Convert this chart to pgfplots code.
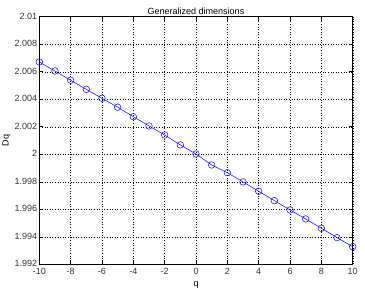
\documentclass[border=0pt]{standalone}
\usepackage{fontspec}
\setmainfont{Liberation Sans}
\usepackage{pgfplots}
\pgfplotsset{compat=1.18}
\begin{document}
\fontsize{9pt}{10pt}\selectfont
\begin{tikzpicture}
\begin{axis}[
  name=ax,
  scale only axis,
  width=313.4pt, height=247.6pt,
  xmin=-10, xmax=10, ymin=1.992, ymax=2.01,
  xtick={-10,-8,...,10},
  ytick={1.992,1.994,1.996,1.998,2,2.002,2.004,2.006,2.008,2.01},
  scaled y ticks=false,
  /pgf/number format/assume math mode=true,
  yticklabel style={/pgf/number format/fixed, /pgf/number format/precision=3},
  tick align=inside,
  major tick length=4pt,
  tick style={black, line width=0.5pt},
  grid=major,
  major grid style={black, line width=0.4pt, dash pattern=on 1pt off 1.6pt},
  axis line style={black, line width=0.6pt},
  title={Generalized dimensions},
  title style={yshift=-7pt},
  xlabel={q}, ylabel={Dq},
  xlabel style={yshift=-1pt},
  ylabel style={yshift=-2pt},
  ticklabel style={font=\fontsize{9pt}{10pt}\selectfont, text=black!80},
  label style={font=\fontsize{9pt}{10pt}\selectfont},
  xticklabel style={yshift=-0.5pt},
  yticklabel style={xshift=1pt, yshift=0.5pt},
]
\addplot[blue, line width=0.5pt, mark=o, mark size=3.3pt, mark options={line width=0.5pt}] coordinates {
(-10,2.00671) (-9,2.00605) (-8,2.00538) (-7,2.00472) (-6,2.00407)
(-5,2.00342) (-4,2.00273) (-3,2.00206) (-2,2.00140) (-1,2.00068)
(0,2.00002) (1,1.99922) (2,1.99866) (3,1.99799) (4,1.99731)
(5,1.99663) (6,1.99595) (7,1.99530) (8,1.99462) (9,1.99394) (10,1.99328)
};
\end{axis}
\pgfresetboundingbox
\path ([shift={(-39.3pt,-27.7pt)}]ax.south west) rectangle ([shift={(12.3pt,16.7pt)}]ax.north east);
\end{tikzpicture}
\end{document}
